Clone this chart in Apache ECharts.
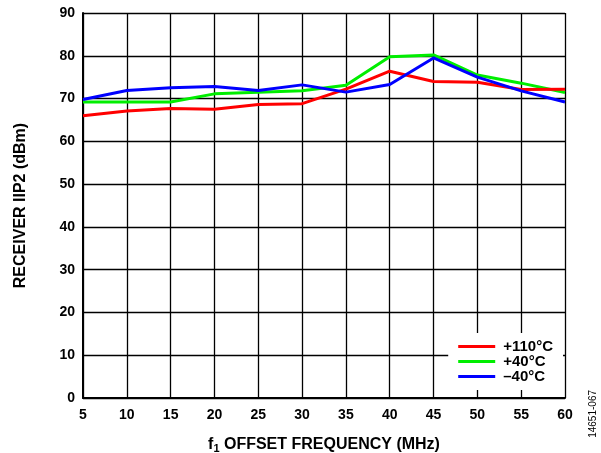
<!DOCTYPE html>
<html><head><meta charset="utf-8">
<script src="https://cdn.jsdelivr.net/npm/echarts@6/dist/echarts.min.js"></script>
<style>html,body{margin:0;padding:0;background:#fff}#c{width:601px;height:453px}</style>
</head><body><div id="c"></div>
<script>
const freqs = [5,10,15,20,25,30,35,40,45,50,55,60];
const red110 = [66.0,67.1,67.7,67.5,68.6,68.8,72.2,76.4,74.0,73.8,72.1,72.2];
const green40 = [69.2,69.2,69.2,71.1,71.5,71.8,73.1,79.8,80.2,75.5,73.6,71.4];
const blueM40 = [69.8,71.9,72.5,72.8,71.9,73.2,71.5,73.3,79.5,75.0,71.8,69.2];
const seriesNames = ['+110°C','+40°C','\u201340°C'];
const colors = ['#ff0000','#00ee00','#0000ff'];
const pair = a => freqs.map((f,i)=>[f,a[i]]);
const font = 'Liberation Sans, Arial, sans-serif';
const chart = echarts.init(document.getElementById('c'));
chart.setOption({
  animation:false,
  grid:{left:83,top:13,right:36,bottom:55,outerBoundsMode:'none',containLabel:false},
  xAxis:{type:'value',min:5,max:60,interval:5,
    name:'{a|f}{s|1}{a| OFFSET FREQUENCY (MHz)}',nameLocation:'middle',nameGap:38,
    nameTextStyle:{rich:{a:{fontFamily:font,fontWeight:'bold',fontSize:16,color:'#000'},s:{fontFamily:font,fontWeight:'bold',fontSize:11,color:'#000',verticalAlign:'bottom',padding:[7,0,0,0]}}},
    axisLine:{lineStyle:{color:'#000',width:2}},axisTick:{show:false},
    axisLabel:{fontFamily:font,fontWeight:'bold',fontSize:14,color:'#000',margin:10},
    splitLine:{show:true,lineStyle:{color:'#000',width:1.3}}},
  yAxis:{type:'value',min:0,max:90,interval:10,
    name:'RECEIVER IIP2 (dBm)',nameLocation:'middle',nameGap:54,
    nameTextStyle:{fontFamily:font,fontWeight:'bold',fontSize:16,color:'#000'},
    axisLine:{show:true,lineStyle:{color:'#000',width:2}},axisTick:{show:false},
    axisLabel:{fontFamily:font,fontWeight:'bold',fontSize:14,color:'#000',margin:8},
    splitLine:{show:true,lineStyle:{color:'#000',width:1.3}}},
  legend:{right:38,bottom:63,orient:'vertical',itemGap:0,itemWidth:37,itemHeight:3,icon:'rect',
    backgroundColor:'#fff',padding:[6,10,6,10],
    textStyle:{fontFamily:font,fontWeight:'bold',fontSize:15,lineHeight:13,color:'#000',padding:[0,0,0,3]},
    data:seriesNames},
  series:[
    {name:seriesNames[0],type:'line',data:pair(red110),color:colors[0],symbol:'none',lineStyle:{width:3},z:3},
    {name:seriesNames[1],type:'line',data:pair(green40),color:colors[1],symbol:'none',lineStyle:{width:3},z:2},
    {name:seriesNames[2],type:'line',data:pair(blueM40),color:colors[2],symbol:'none',lineStyle:{width:3},z:4}
  ],
  graphic:[{type:'text',left:588,top:390,rotation:Math.PI/2,
    style:{text:'14651-067',fontFamily:font,fontSize:10,fill:'#000'}}]
});
</script></body></html>
